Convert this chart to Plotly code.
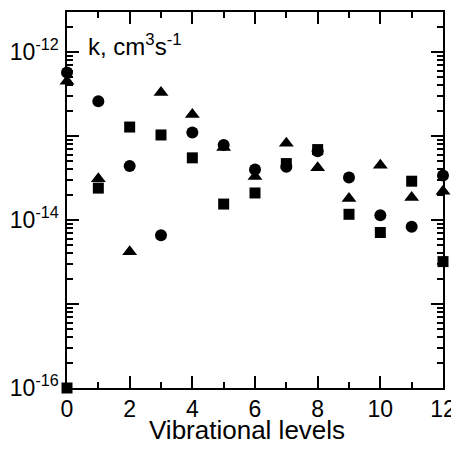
import plotly.graph_objects as go

levels = list(range(13))
k_circle = [5.7e-13, 2.6e-13, 4.4e-14, 6.6e-15, 1.1e-13, 7.8e-14, 4.0e-14,
            4.3e-14, 6.6e-14, 3.2e-14, 1.14e-14, 8.3e-15, 3.4e-14]
k_triangle = [4.5e-13, 3.1e-14, 4.2e-15, 3.3e-13, 1.8e-13, 7.3e-14, 3.3e-14,
              8.2e-14, 4.2e-14, 1.8e-14, 4.5e-14, 1.86e-14, 2.2e-14]
k_square = [1.0e-16, 2.4e-14, 1.28e-13, 1.03e-13, 5.5e-14, 1.55e-14, 2.1e-14,
            4.7e-14, 6.9e-14, 1.17e-14, 7.1e-15, 2.9e-14, 3.2e-15]

y_tickvals = [1e-16, 1e-15, 1e-14, 1e-13, 1e-12]
y_ticktext = ["10<sup>-16</sup>", "", "10<sup>-14</sup>", "", "10<sup>-12</sup>"]
# minor ticks 2..9 in every decade
y_minor = [m * 10.0 ** e for e in range(-16, -11) for m in range(2, 10)]
y_minor = [v for v in y_minor if v <= 3e-12]

family = "Liberation Sans, Arial"
tick_font = dict(family=family, size=23, color="black")

fig = go.Figure()
fig.add_trace(go.Scatter(x=levels, y=k_circle, mode="markers", cliponaxis=False,
                         marker=dict(symbol="circle", size=12, color="black")))
fig.add_trace(go.Scatter(x=levels, y=k_triangle, mode="markers", cliponaxis=False,
                         marker=dict(symbol="triangle-up", size=13, color="black")))
fig.add_trace(go.Scatter(x=levels, y=k_square, mode="markers", cliponaxis=False,
                         marker=dict(symbol="square", size=11, color="black")))

# page body adds an 8px margin, so the figure is 8px smaller than the window
fig.update_layout(
    width=451, height=442,
    margin=dict(l=59, r=16, t=4, b=62),
    plot_bgcolor="white", paper_bgcolor="white",
    showlegend=False,
    font=tick_font,
)
fig.update_xaxes(
    range=[0, 12], dtick=2, tick0=0, automargin=False,
    showline=True, linecolor="black", linewidth=1.5, mirror="ticks",
    ticks="inside", ticklen=12, tickwidth=1.5, tickcolor="black",
    minor=dict(dtick=1, ticks="inside", ticklen=6, tickwidth=1.5, tickcolor="black"),
    showgrid=False, zeroline=False,
    tickfont=tick_font,
)
fig.update_yaxes(
    type="log", range=[-16, -11.523], automargin=False,
    tickmode="array", tickvals=y_tickvals, ticktext=y_ticktext,
    showline=True, linecolor="black", linewidth=1.5, mirror="ticks",
    ticks="inside", ticklen=12, tickwidth=1.5, tickcolor="black",
    minor=dict(tickmode="array", tickvals=y_minor, ticks="inside", ticklen=6,
               tickwidth=1.5, tickcolor="black", showgrid=False),
    showgrid=False, zeroline=False,
    tickfont=tick_font, ticklabelstandoff=2,
)
fig.add_annotation(text="k, cm<sup>3</sup>s<sup>-1</sup>", xref="paper", yref="paper",
                   x=0.05, y=0.912, xanchor="left", yanchor="middle",
                   showarrow=False, font=dict(family=family, size=24, color="black"))
# x axis title as annotation, so it sits right under the tick labels
fig.add_annotation(text="Vibrational levels", xref="paper", yref="paper",
                   x=0.479, y=-0.112, xanchor="center", yanchor="middle",
                   showarrow=False, font=dict(family=family, size=26, color="black"))

fig.write_html("out.html")
